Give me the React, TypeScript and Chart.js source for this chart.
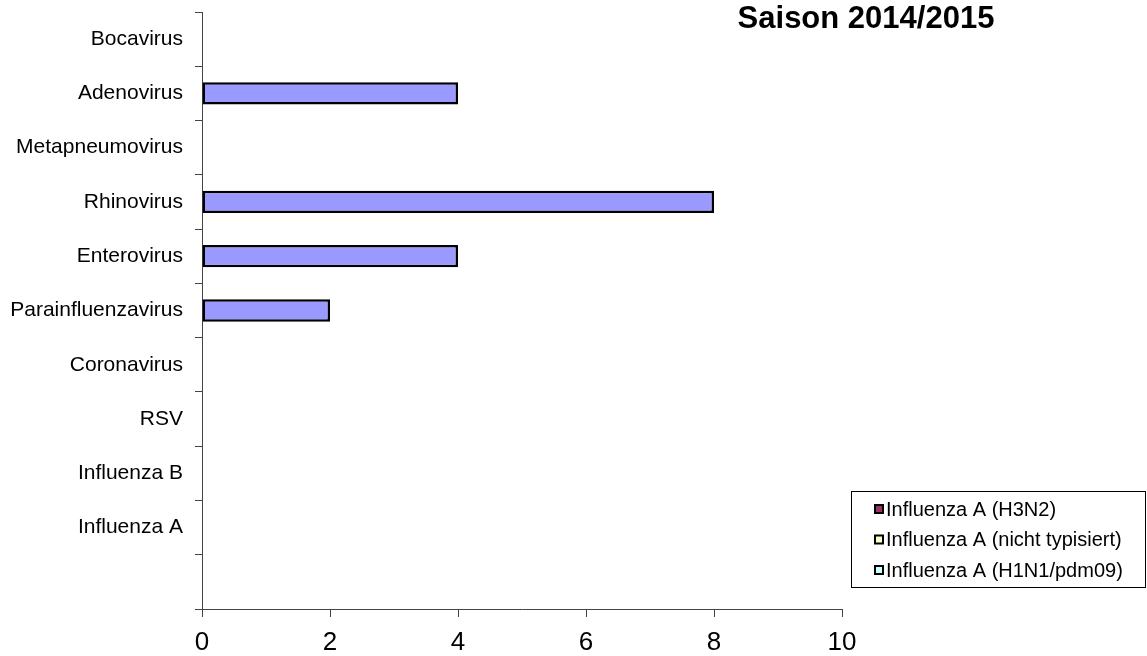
import { useEffect, useRef } from "react";
import { Chart, registerables } from "chart.js";
Chart.register(...registerables);

const categories = [
  "Bocavirus",
  "Adenovirus",
  "Metapneumovirus",
  "Rhinovirus",
  "Enterovirus",
  "Parainfluenzavirus",
  "Coronavirus",
  "RSV",
  "Influenza B",
  "Influenza A",
  "",
];
const otherVirusValues = [0, 4, 0, 8, 4, 2, 0, 0, 0, 0, 0];
const h3n2Values = [0, 0, 0, 0, 0, 0, 0, 0, 0, 0, 0];
const notTypedValues = [0, 0, 0, 0, 0, 0, 0, 0, 0, 0, 0];
const h1n1Values = [0, 0, 0, 0, 0, 0, 0, 0, 0, 0, 0];
const legendLabels = [
  "Influenza A (H3N2)",
  "Influenza A (nicht typisiert)",
  "Influenza A (H1N1/pdm09)",
];
const xMin = 0;
const xMax = 10;
const xStep = 2;
const titleText = "Saison 2014/2015";

const FONT = "Arial, 'Liberation Sans', sans-serif";
const AXIS = "#444";

const toBars = (arr: number[]) => arr.map((v) => (v === 0 ? null : v));

export default function App() {
  const ref = useRef<HTMLCanvasElement | null>(null);

  useEffect(() => {
    if (!ref.current) return;
    const overlay = {
      id: "overlay",
      afterDraw(chart: any) {
        const ctx = chart.ctx;
        ctx.save();
        // title
        ctx.fillStyle = "#000";
        ctx.font = `bold 31px ${FONT}`;
        ctx.textAlign = "center";
        ctx.textBaseline = "middle";
        ctx.fillText(titleText, 866, 19);
        // legend
        const bx = 851.5, by = 491.5, bw = 294, bh = 96;
        ctx.strokeStyle = "#000";
        ctx.lineWidth = 1;
        ctx.strokeRect(bx, by, bw, bh);
        const items = chart.data.datasets.filter((d: any) => legendLabels.includes(d.label));
        items.forEach((d: any, i: number) => {
          const cy = 509 + i * 30.5;
          ctx.fillStyle = d.backgroundColor;
          ctx.fillRect(874, cy - 5, 10, 10);
          ctx.strokeStyle = "#000";
          ctx.lineWidth = 2;
          ctx.strokeRect(875, cy - 4, 8, 8);
          ctx.fillStyle = "#000";
          ctx.font = `20px ${FONT}`;
          ctx.textAlign = "left";
          ctx.textBaseline = "middle";
          ctx.fillText(d.label, 886, cy + 1);
        });
        ctx.restore();
      },
    };

    const barCommon = {
      borderColor: "#000000",
      borderWidth: 2.5,
      borderSkipped: false,
      categoryPercentage: 1,
      barPercentage: 0.41,
    };

    const chart = new Chart(ref.current, {
      type: "bar",
      data: {
        labels: categories,
        datasets: [
          { label: "Andere Viren", data: toBars(otherVirusValues), backgroundColor: "#9999FF", ...barCommon },
          { label: legendLabels[0], data: toBars(h3n2Values), backgroundColor: "#993366", ...barCommon },
          { label: legendLabels[1], data: toBars(notTypedValues), backgroundColor: "#FFFFCC", ...barCommon },
          { label: legendLabels[2], data: toBars(h1n1Values), backgroundColor: "#CCFFFF", ...barCommon },
        ],
      } as any,
      options: {
        indexAxis: "y",
        animation: false,
        responsive: false,
        maintainAspectRatio: false,
        layout: { padding: { top: 12, right: 305, left: 0, bottom: 0 } },
        plugins: {
          legend: { display: false },
          title: { display: false },
          tooltip: { enabled: false },
        },
        scales: {
          x: {
            stacked: true,
            min: xMin,
            max: xMax,
            ticks: {
              stepSize: xStep,
              color: "#000",
              font: { family: FONT, size: 26 },
              padding: 10,
              maxRotation: 0,
            },
            grid: {
              drawOnChartArea: false,
              drawTicks: true,
              tickLength: 8,
              color: AXIS,
            },
            border: { display: true, color: AXIS, width: 1 },
            afterFit: (s: any) => {
              s.height = 47;
              s.paddingLeft = 0;
              s.paddingRight = 0;
            },
          },
          y: {
            stacked: true,
            ticks: {
              color: "#000",
              font: { family: FONT, size: 21 },
              padding: 12,
              autoSkip: false,
            },
            grid: {
              offset: true,
              drawOnChartArea: false,
              drawTicks: true,
              tickLength: 7,
              color: AXIS,
            },
            border: { display: true, color: AXIS, width: 1 },
            afterFit: (s: any) => {
              s.width = 202;
              s.paddingTop = 0;
              s.paddingBottom = 0;
            },
          },
        },
      } as any,
      plugins: [overlay],
    });
    return () => chart.destroy();
  }, []);

  return (
    <div style={{ position: "fixed", left: 0, top: 0, width: 1147, height: 656, background: "#fff" }}>
      <canvas ref={ref} width={1147} height={656} style={{ width: 1147, height: 656 }} />
    </div>
  );
}
